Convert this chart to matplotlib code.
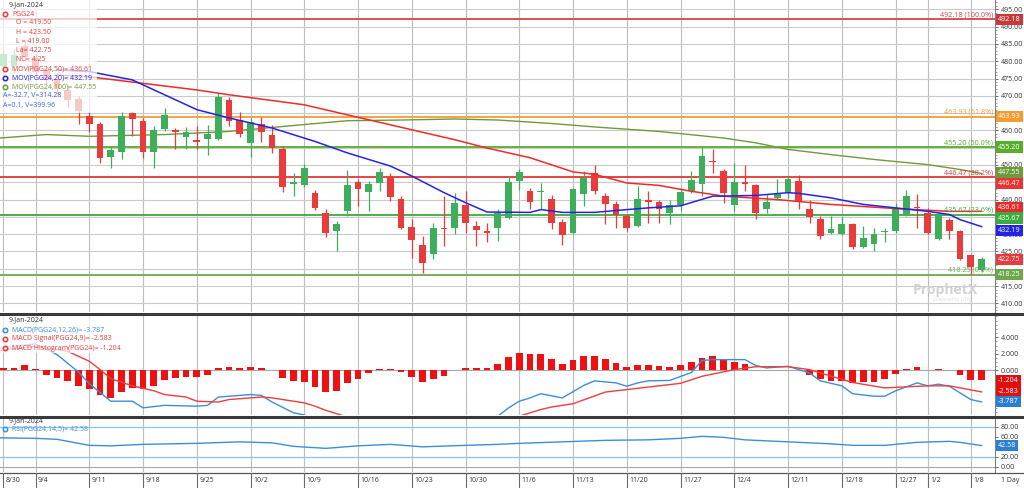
import numpy as np
import matplotlib
matplotlib.use('Agg')
import matplotlib.pyplot as plt
from matplotlib.lines import Line2D
from matplotlib.patches import Rectangle

plt.rcParams['font.family'] = ['Open Sans', 'DejaVu Sans']

# bar index 0 = 8/30/2023 ... 91 = 1/9/2024
week_ticks = [0, 3, 8, 13, 18, 23, 28, 33, 38, 43, 48, 53, 58, 63, 68, 73, 78, 83, 86, 90]
week_labels = ['8/30', '9/4', '9/11', '9/18', '9/25', '10/2', '10/9', '10/16', '10/23', '10/30',
               '11/6', '11/13', '11/20', '11/27', '12/4', '12/11', '12/18', '12/27', '1/2', '1/8']

opens = [478.5, 478.5, 484.5, 481.0, 477.5, 475.0, 471.7, 469.1, 464.2, 461.9,
         452.4, 453.9, 465.1, 462.8, 453.9, 460.3, 460.0, 458.2, 457.3, 457.6,
         457.6, 468.7, 463.1, 456.4, 461.9, 458.8, 454.7, 444.6, 444.3, 441.8,
         436.0, 430.8, 436.7, 445.1, 442.3, 444.9, 446.6, 440.3, 432.1, 426.8,
         424.2, 431.9, 431.9, 438.3, 432.3, 430.9, 431.9, 434.8, 445.3, 442.4,
         442.1, 440.2, 433.5, 430.4, 441.5, 447.8, 441.0, 438.6, 435.2, 432.5,
         440.0, 439.4, 436.0, 438.4, 442.4, 444.4, 451.2, 448.2, 438.3, 445.1,
         444.1, 437.4, 440.5, 442.0, 445.3, 437.2, 434.3, 430.4, 430.0, 432.8,
         426.4, 427.1, 430.5, 430.9, 435.4, 438.0, 436.2, 428.7, 434.2, 430.9,
         423.9, 419.5]
highs = [483.0, 483.5, 486.0, 482.5, 479.0, 476.5, 473.0, 470.0, 465.4, 462.5,
         455.4, 465.4, 465.4, 463.7, 461.2, 466.5, 460.8, 461.1, 461.4, 461.7,
         470.9, 469.8, 465.4, 463.7, 464.0, 461.7, 455.4, 447.8, 450.4, 442.9,
         437.2, 433.7, 448.5, 446.0, 445.3, 449.2, 447.8, 441.0, 434.3, 429.5,
         433.3, 441.0, 441.9, 442.4, 433.8, 433.3, 437.2, 446.8, 448.7, 443.4,
         444.9, 441.4, 434.3, 443.4, 448.2, 450.1, 441.9, 439.6, 435.7, 443.9,
         442.4, 440.0, 439.8, 443.4, 448.2, 455.2, 454.5, 448.9, 450.6, 450.1,
         444.4, 441.5, 446.0, 446.8, 447.0, 440.0, 435.2, 435.2, 435.0, 433.3,
         432.3, 431.9, 431.9, 439.1, 442.9, 441.5, 437.7, 436.5, 434.8, 431.2,
         424.2, 423.5]
lows = [477.0, 476.5, 480.0, 476.0, 473.5, 470.5, 466.8, 461.9, 459.6, 450.7,
        449.0, 451.6, 458.5, 452.1, 449.2, 459.7, 454.5, 454.5, 454.5, 453.0,
        457.3, 461.2, 458.2, 452.4, 456.7, 453.6, 442.3, 440.9, 443.7, 436.9,
        429.3, 425.0, 435.2, 438.1, 436.7, 442.4, 439.6, 431.4, 423.2, 418.9,
        422.7, 426.6, 430.0, 430.4, 426.6, 427.6, 428.0, 434.3, 442.9, 437.2,
        437.2, 431.4, 426.8, 430.0, 438.1, 441.5, 432.8, 431.9, 430.9, 432.2,
        433.3, 433.3, 432.8, 436.7, 442.0, 441.0, 447.7, 439.1, 436.7, 442.4,
        434.3, 436.2, 440.0, 440.5, 437.2, 433.3, 428.5, 430.0, 429.7, 425.8,
        426.1, 425.1, 427.6, 430.4, 435.2, 431.9, 430.0, 428.3, 428.5, 422.5,
        418.4, 419.0]
closes = [482.0, 481.8, 481.2, 477.0, 474.5, 472.0, 468.9, 465.6, 461.9, 452.1,
          454.2, 464.2, 463.4, 453.9, 460.0, 464.5, 459.6, 459.4, 456.7, 459.1,
          469.8, 462.8, 459.1, 462.3, 459.4, 455.0, 443.7, 445.2, 449.0, 437.5,
          430.2, 432.8, 444.1, 443.2, 444.4, 448.0, 440.8, 431.9, 428.2, 421.8,
          431.7, 431.6, 439.1, 433.1, 431.1, 430.4, 436.2, 445.0, 448.0, 439.4,
          442.3, 433.1, 429.7, 443.1, 446.1, 442.4, 438.8, 435.4, 431.9, 440.2,
          439.3, 437.2, 438.3, 442.1, 445.6, 452.5, 450.9, 441.8, 445.0, 444.6,
          436.2, 439.3, 441.5, 446.0, 439.6, 435.1, 429.5, 431.4, 432.8, 426.4,
          429.0, 430.0, 430.9, 437.4, 441.0, 437.7, 430.2, 435.7, 430.9, 422.7,
          420.4, 422.75]

ma50_x = [5, 8, 18, 21, 28, 32, 42, 45, 49, 53, 55, 58, 61, 64, 67, 72, 77, 83, 88, 91]
ma50_y = [476.0, 475.5, 471.7, 470.3, 467.4, 464.5, 457.3, 454.9, 452.1, 448.0,
          447.3, 444.8, 444.1, 442.4, 441.0, 440.0, 438.6, 437.4, 436.6, 436.61]
ma20_x = [5, 8, 12, 18, 21, 25, 29, 32, 36, 38, 41, 43, 45, 49, 50, 52, 55, 58, 60, 63,
          66, 67, 70, 73, 74, 77, 80, 83, 86, 88, 89, 91]
ma20_y = [477.5, 477.0, 474.6, 466.0, 463.6, 460.7, 456.8, 453.5, 449.7, 446.8,
          442.0, 439.1, 436.4, 436.3, 437.1, 436.3, 436.3, 437.1, 437.6, 438.2,
          441.0, 441.0, 441.2, 442.0, 441.8, 440.5, 438.6, 437.6, 436.6, 435.7,
          434.2, 432.19]
ma100_x = [-0.3, 4, 8, 15, 21, 28, 32, 37, 42, 46, 51, 55, 61, 67, 70, 73, 77, 81, 86, 89, 91]
ma100_y = [457.8, 458.8, 458.3, 458.8, 459.7, 461.7, 462.8, 463.0, 463.3, 463.0,
           462.0, 461.0, 459.7, 457.8, 456.4, 454.5, 453.0, 451.6, 450.1, 448.7, 447.55]

fib_levels = [492.18, 463.93, 455.20, 446.47, 435.67, 418.25]
fib_pcts = ['100.0%', '61.8%', '50.0%', '38.2%', '23.6%', '0.0%']
fib_colors = ['#d64545', '#f39c33', '#57ad2c', '#e83434', '#3daa3d', '#6fa84c']

macd_x = [-0.3, 3, 5, 7, 8, 10, 12, 13, 15, 18, 19, 20, 23, 24, 25, 27, 28, 29, 30, 32,
          35, 38, 39, 41, 43, 46, 47, 48, 49, 50, 52, 54, 55, 57, 58, 59, 60, 62, 64, 65,
          66, 67, 69, 70, 71, 73, 75, 76, 78, 79, 81, 82, 83, 85, 86, 87, 88, 90, 91]
macd_y = [2.7, 3.2, 1.9, -0.2, -1.6, -3.7, -3.7, -4.5, -4.2, -4.3, -4.2, -3.2, -2.9, -3.0,
          -3.8, -5.1, -5.35, -6.25, -7.35, -7.1, -5.65, -6.75, -7.6, -7.2, -6.25, -5.5,
          -4.5, -3.7, -3.3, -2.8, -3.3, -1.8, -1.25, -1.5, -1.9, -1.5, -1.25, -1.2, -0.25,
          1.2, 1.3, 1.3, 1.3, 0.6, 0.3, 0.5, -0.3, -1.25, -1.85, -2.8, -3.1, -3.1, -2.45,
          -1.5, -1.85, -1.65, -1.9, -3.5, -3.787]
sig_x = [-0.3, 3, 6, 8, 9, 10, 12, 14, 15, 17, 18, 20, 21, 24, 25, 28, 29, 30, 32, 35,
         38, 41, 44, 46, 48, 50, 51, 53, 56, 58, 61, 63, 65, 68, 70, 73, 75, 76, 79, 82,
         86, 88, 91]
sig_y = [2.4, 2.9, 2.3, 1.1, 0.1, -1.0, -1.85, -2.45, -2.9, -3.2, -3.7, -3.8, -3.5, -3.2,
         -3.3, -3.9, -4.3, -4.8, -5.6, -5.85, -6.0, -6.55, -6.45, -6.2, -5.5, -4.7, -4.4,
         -4.0, -2.6, -2.3, -1.85, -1.55, -0.7, 0.1, 0.45, 0.45, 0.1, -0.3, -1.45, -2.1,
         -1.85, -1.85, -2.583]
hist = [0.3, 0.3, 0.6, 0.2, -0.5, -0.9, -1.25, -1.85, -2.2, -3.0,
        -3.3, -2.6, -2.1, -2.2, -1.85, -1.15, -0.95, -0.8, -0.75, -0.55,
        0.3, 0.45, 0.3, 0.45, 0.3, 0.05, -0.85, -1.25, -1.45, -1.95,
        -2.55, -2.5, -1.5, -1.0, -0.35, 0.2, 0.2, -0.15, -0.75, -1.35,
        -1.0, -0.65, 0.1, 0.25, 0.3, 0.3, 0.75, 1.6, 2.15, 2.0,
        2.0, 1.4, 0.8, 1.3, 1.7, 1.7, 1.35, 0.9, 0.4, 0.6,
        0.6, 0.5, 0.45, 0.7, 1.0, 1.55, 1.75, 1.2, 1.0, 0.8,
        0.1, 0.05, 0.05, 0.05, 0.05, -0.6, -1.05, -1.25, -1.25, -1.55,
        -1.45, -1.35, -1.05, -0.45, 0.2, 0.45, 0.1, 0.2, 0.05, -0.6,
        -1.15, -1.204]

rsi_x = [-0.3, 3, 5, 8, 10, 13, 18, 22, 25, 27, 30, 33, 36, 39, 43, 46, 48, 52, 56, 60,
         63, 65, 67, 69, 72, 75, 77, 79, 82, 85, 88, 89, 91]
rsi_y = [58, 57, 55, 43, 42, 45, 47, 50, 48, 41, 37, 42, 45, 40, 43, 45, 47, 50, 53, 54,
         57, 61, 59, 54, 51, 48, 46, 43, 43, 49, 51, 49, 42.58]

GREEN = '#3fae5a'
RED = '#e83b3b'
W, H = 1024, 488

fig = plt.figure(figsize=(W / 100, H / 100), dpi=100)


def panel(top, bottom):
    return fig.add_axes([0, 1 - bottom / H, 995 / W, (bottom - top) / H])


def ftext(x, y, s, color='#333333', size=5.0, **kw):
    fig.text(x / W, 1 - y / H, s, color=color, fontsize=size, va='center', **kw)


def icon(x, y, color):
    fig.add_artist(Line2D([x / W], [1 - y / H], marker='o', ms=3.2, mfc='none',
                          mec=color, mew=1.1, transform=fig.transFigure, zorder=5))


def tag(a, value, color, nudge=0.0, fmt='{:.2f}'):
    # value tag in the right margin; nudge (in axis units) stacks tags that crowd each other
    a.text(1.003, value + nudge, fmt.format(value), transform=a.get_yaxis_transform(),
           fontsize=5.2, color='white', ha='left', va='center', clip_on=False, zorder=10,
           bbox=dict(boxstyle='square,pad=0.28', fc=color, ec='none'))


def axis_labels(vals, hidden, fmt):
    # labels hidden behind the value tags are left blank, as in the terminal
    return ['' if v in hidden else fmt.format(v) for v in vals]


ax = panel(0, 312)
axm = panel(315, 415)
axr = panel(418, 472)

for a in (ax, axm, axr):
    a.set_xlim(-0.31, 92.25)
    a.set_xticks([])
    for s in ('top', 'left', 'bottom'):
        a.spines[s].set_visible(False)
    a.spines['right'].set_color('#808080')
    a.spines['right'].set_linewidth(0.8)
    a.yaxis.tick_right()
    a.tick_params(axis='y', which='major', labelsize=5, labelcolor='#333333',
                  color='#555555', length=2.5, width=0.6, pad=1.5)
    a.tick_params(axis='y', which='minor', length=1.2, width=0.5, color='#777777')
    for t in week_ticks:
        a.axvline(t, color='#bdbdbd', lw=0.8, zorder=0)

# ---- price panel
ax.set_ylim(407.5, 497.7)
price_ticks = list(range(410, 496, 5))
ax.set_yticks(price_ticks)
ax.set_yticklabels(axis_labels(price_ticks, {420, 435, 445, 455, 465}, '{:.2f}'))
ax.set_yticks(np.arange(408, 498, 1), minor=True)
for v in price_ticks:
    ax.axhline(v, color='#cacaca', lw=0.8, zorder=0)

for lvl, pct, col in zip(fib_levels, fib_pcts, fib_colors):
    ax.axhline(lvl, color=col, lw=1.3, zorder=1)
    ax.text(92.05, lvl + 0.25, f'{lvl:.2f} ({pct})', color=col, fontsize=5.2,
            ha='right', va='bottom', zorder=6)

ax.plot(ma100_x, ma100_y, color='#6f9a3c', lw=1.0, zorder=2)

o, hi, lo, c = (np.array(v) for v in (opens, highs, lows, closes))
idx = np.arange(len(c))
cols = np.where(c >= o, GREEN, RED)
ax.vlines(idx, lo, hi, colors=cols, lw=0.9, zorder=3)
ax.bar(idx, np.maximum(np.abs(c - o), 0.28), bottom=np.minimum(o, c), width=0.62,
       color=cols, lw=0, zorder=4)

ax.plot(ma50_x, ma50_y, color='#f02a2a', lw=1.1, zorder=5)
ax.plot(ma20_x, ma20_y, color='#2424e6', lw=1.1, zorder=5)

tag(ax, 492.18, '#c83a3a')
tag(ax, 463.93, '#f39c33')
tag(ax, 455.20, '#57ad2c')
tag(ax, 447.55, '#6f9a3c', nudge=0.3)
tag(ax, 446.47, '#e83434', nudge=-1.9)
tag(ax, 436.61, '#e82a2a', nudge=1.1)
tag(ax, 435.67, '#3daa3d', nudge=-1.0)
tag(ax, 432.19, '#2424e6', nudge=-1.0)
tag(ax, 422.75, '#e83b3b')
tag(ax, 418.25, '#6fa84c')

# ---- MACD panel
axm.set_ylim(-5.36, 6.67)
axm.set_yticks([0, 2, 4])
axm.set_yticklabels(['0.000', '2.000', '4.000'])
axm.set_yticks(np.arange(-5, 6.6, 0.5), minor=True)
axm.axhline(0, color='#a8a8a8', lw=0.8, zorder=0)
axm.bar(idx, hist, width=0.62, color='#ee1111', lw=0, zorder=2)
axm.plot(macd_x, macd_y, color='#3b8fd9', lw=1.0, zorder=3)
axm.plot(sig_x, sig_y, color='#f03c3c', lw=1.0, zorder=3)
tag(axm, -1.204, '#e01010', fmt='{:.3f}')
tag(axm, -2.583, '#e01010', fmt='{:.3f}')
tag(axm, -3.787, '#2a7fd4', fmt='{:.3f}')

# ---- RSI panel
axr.set_ylim(-10.2, 97.6)
rsi_ticks = [0, 20, 40, 60, 80]
axr.set_yticks(rsi_ticks)
axr.set_yticklabels(axis_labels(rsi_ticks, {40}, '{:.2f}'))
axr.axhline(80, color='#8cc4ee', lw=0.9, zorder=1)
axr.axhline(20, color='#8cc4ee', lw=0.9, zorder=1)
axr.axhline(0, color='#a8a8a8', lw=0.8, zorder=1)
axr.plot(rsi_x, rsi_y, color='#3b8fd9', lw=1.0, zorder=3)
tag(axr, 42.58, '#2a7fd4')

# ---- legend backgrounds and texts
fig.add_artist(Rectangle((0, 1 - 113 / H), 97 / W, 113 / H, transform=fig.transFigure,
                         fc='white', ec='none', alpha=0.72, zorder=1))
fig.add_artist(Rectangle((0, 1 - 353 / H), 122 / W, 38 / H, transform=fig.transFigure,
                         fc='white', ec='none', alpha=0.72, zorder=1))

ftext(9, 5, '9-Jan-2024')
icon(5, 14, RED)
ftext(12, 14, 'PGG24', RED)
for k, s in enumerate(['O = 419.50', 'H = 423.50', 'L = 419.00', 'La= 422.75', 'NC= 4.25']):
    ftext(16, 23 + 9.2 * k, s, RED)
icon(5, 69, RED)
ftext(12, 69, 'MOV(PGG24,50)= 436.61', RED)
icon(5, 78, '#2424e6')
ftext(12, 78, 'MOV(PGG24,20)= 432.19', '#2424e6')
icon(5, 87, '#6f9a3c')
ftext(12, 87, 'MOV(PGG24,100)= 447.55', '#6f9a3c')
ftext(3, 96, 'A=-32.7, V=314.28', '#3d62e0')
ftext(3, 105, 'A=0.1, V=399.96', '#3d62e0')

ftext(9, 320, '9-Jan-2024')
icon(5, 330, '#3b8fd9')
ftext(12, 330, 'MACD(PGG24,12,26)= -3.787', '#3b8fd9')
icon(5, 339, RED)
ftext(12, 339, 'MACD Signal(PGG24,9)= -2.583', RED)
icon(5, 348, RED)
ftext(12, 348, 'MACD Histogram(PGG24)= -1.204', RED)

ftext(9, 421, '9-Jan-2024')
icon(5, 428.5, '#3b8fd9')
ftext(12, 428.5, 'RSI(PGG24,14,5)= 42.58', '#3b8fd9')

# watermark
ftext(945, 290, 'ProphetX', '#d2d2d2', size=10, ha='center', fontweight='bold')
ftext(952, 299, 'powered by DTN', '#dddddd', size=3.5, ha='center')

# panel separators
for y, lw, col in [(313.5, 2.2, '#3a3a3a'), (416.5, 2.2, '#3a3a3a'), (472.5, 0.9, '#555555')]:
    fig.add_artist(Line2D([0, 1], [1 - y / H] * 2, color=col, lw=lw, transform=fig.transFigure))

# date axis
for t, lab in zip(week_ticks, week_labels):
    xp = 3.3 + 10.75 * t
    fig.add_artist(Line2D([xp / W] * 2, [0, 1 - 472.5 / H], color='#6a6a6a', lw=0.8,
                          transform=fig.transFigure))
    ftext(xp + 2.5, 481, lab, '#333333', size=5)
ftext(1001, 481, '1 Day', '#333333', size=5)

fig.savefig('out.png', dpi=100, facecolor='white')
